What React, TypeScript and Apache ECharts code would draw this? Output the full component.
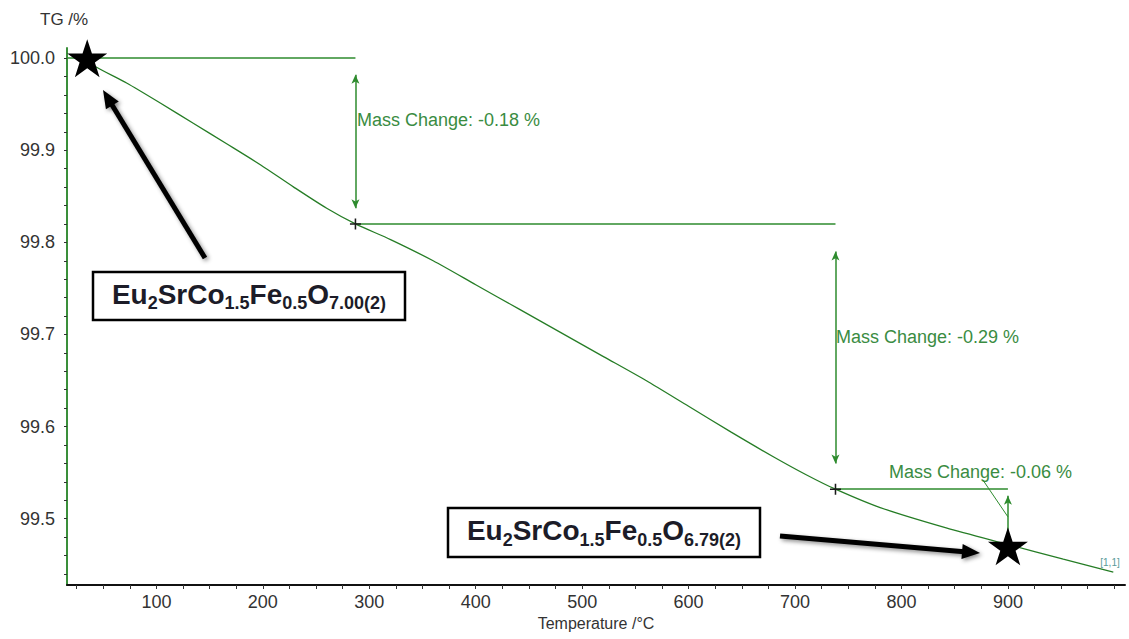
import React, { useEffect, useRef } from 'react';
import * as echarts from 'echarts';

// ---- data ----
const temperatures = [35, 41, 72, 104, 135, 166, 198, 229, 260, 287, 320, 360, 400, 440, 480, 520, 560, 600, 640, 680, 710, 738, 780, 842, 900, 952, 999];
const tgValues = [100.0, 99.992, 99.973, 99.951, 99.929, 99.907, 99.884, 99.86, 99.837, 99.82, 99.803, 99.78, 99.754, 99.728, 99.702, 99.676, 99.65, 99.622, 99.594, 99.567, 99.548, 99.532, 99.512, 99.49, 99.472, 99.456, 99.442];

const stepTemps = [287, 738, 900];
const stepLevels = [100.0, 99.82, 99.532];
const massChanges = ['-0.18', '-0.29', '-0.06'];

const crossTemps = [287, 738];
const crossValues = [99.82, 99.532];

const starTemps = [35, 900];
const starValues = [100.0, 99.47];

const xLabelValues = [100, 200, 300, 400, 500, 600, 700, 800, 900];
const xTickValues = [25, 50, 75, 100, 125, 150, 175, 200, 225, 250, 275, 300, 325, 350, 375, 400, 425, 450, 475, 500, 525, 550, 575, 600, 625, 650, 675, 700, 725, 750, 775, 800, 825, 850, 875, 900, 925, 950, 975, 1000];
const yLabelValues = [99.5, 99.6, 99.7, 99.8, 99.9, 100.0];
const yTickValues = [99.44, 99.46, 99.48, 99.5, 99.52, 99.54, 99.56, 99.58, 99.6, 99.62, 99.64, 99.66, 99.68, 99.7, 99.72, 99.74, 99.76, 99.78, 99.8, 99.82, 99.84, 99.86, 99.88, 99.9, 99.92, 99.94, 99.96, 99.98, 100.0];

const formulaStart = '{m|Eu}{s|2}{m|SrCo}{s|1.5}{m|Fe}{s|0.5}{m|O}{s|7.00(2)}';
const formulaEnd = '{m|Eu}{s|2}{m|SrCo}{s|1.5}{m|Fe}{s|0.5}{m|O}{s|6.79(2)}';

const FONT = '"Liberation Sans", Arial, sans-serif';
const GREEN = '#2e8b2e';
const LABEL_GREEN = '#3a8c42';

const STAR_PATH = 'path://M50,0 L61.2,34.5 L97.6,34.5 L68.2,55.9 L79.4,90.5 L50,69.1 L20.6,90.5 L31.8,55.9 L2.4,34.5 L38.8,34.5 Z';
const PLUS_PATH = 'path://M4.3,0 H5.7 V4.3 H10 V5.7 H5.7 V10 H4.3 V5.7 H0 V4.3 H4.3 Z';

function arrowGraphic(x1: number, y1: number, x2: number, y2: number) {
  const dx = x2 - x1;
  const dy = y2 - y1;
  const len = Math.sqrt(dx * dx + dy * dy);
  const ux = dx / len;
  const uy = dy / len;
  const headLen = 18;
  const headHalf = 7.5;
  const bx = x2 - ux * headLen;
  const by = y2 - uy * headLen;
  const px = -uy;
  const py = ux;
  const shadow = { shadowBlur: 4, shadowColor: 'rgba(0,0,0,0.45)', shadowOffsetX: 2, shadowOffsetY: 2 };
  return {
    type: 'group',
    children: [
      { type: 'line', shape: { x1, y1, x2: bx + ux * 2, y2: by + uy * 2 }, style: { stroke: '#000', lineWidth: 5, ...shadow } },
      {
        type: 'polygon',
        shape: { points: [[x2, y2], [bx + px * headHalf, by + py * headHalf], [bx - px * headHalf, by - py * headHalf]] },
        style: { fill: '#000', ...shadow },
      },
    ],
  };
}

function formulaBox(x: number, y: number, w: number, h: number, text: string) {
  return {
    type: 'group',
    children: [
      { type: 'rect', shape: { x, y, width: w, height: h }, style: { fill: '#fff', stroke: '#000', lineWidth: 2.5 } },
      {
        type: 'text',
        x: x + w / 2,
        y: y + h / 2,
        style: {
          text,
          align: 'center',
          verticalAlign: 'middle',
          fill: '#1c1c28',
          rich: {
            m: { fontSize: 28, fontWeight: 'bold', fontFamily: FONT, fill: '#1c1c28', lineHeight: 32, verticalAlign: 'top' },
            s: { fontSize: 18, fontWeight: 'bold', fontFamily: FONT, fill: '#1c1c28', verticalAlign: 'bottom' },
          },
        },
      },
    ],
  };
}

export default function App() {
  const ref = useRef<HTMLDivElement>(null);

  useEffect(() => {
    if (!ref.current) return;
    const chart = echarts.init(ref.current, null, { renderer: 'svg', width: 1129, height: 639 });

    const curveData = temperatures.map((t, i) => [t, tgValues[i]]);
    const arrowSym = { symbol: 'arrow', symbolSize: [6, 9] };

    const markLineData: any[] = [
      [{ coord: [16, stepLevels[0]] }, { coord: [stepTemps[0], stepLevels[0]] }],
      [{ coord: [stepTemps[0], stepLevels[1]] }, { coord: [stepTemps[1], stepLevels[1]] }],
      [{ coord: [stepTemps[1], stepLevels[2]] }, { coord: [stepTemps[2], stepLevels[2]] }],
      [{ coord: [stepTemps[0], 99.982], ...arrowSym }, { coord: [stepTemps[0], 99.837], ...arrowSym }],
      [{ coord: [stepTemps[1], 99.79], ...arrowSym }, { coord: [stepTemps[1], 99.56], ...arrowSym }],
      [{ coord: [stepTemps[2], 99.525], ...arrowSym }, { coord: [stepTemps[2], 99.478] }],
      [{ coord: [876.5, 99.542], lineStyle: { width: 1 } }, { coord: [stepTemps[2], 99.502] }],
    ];

    const option: any = {
      animation: false,
      backgroundColor: '#fff',
      grid: { left: 67, right: 4, top: 48, bottom: 54, containLabel: false, outerBoundsMode: 'none' },
      xAxis: {
        type: 'value',
        min: 16,
        max: 1010,
        name: 'Temperature /°C',
        nameLocation: 'middle',
        nameGap: 30,
        nameTextStyle: { fontSize: 16, color: '#333', fontFamily: FONT },
        axisLine: { show: true, onZero: false, lineStyle: { color: '#111', width: 2 } },
        axisTick: { show: true, customValues: xTickValues, length: 4, lineStyle: { color: '#333', width: 1 } },
        axisLabel: { customValues: xLabelValues, fontSize: 18, color: '#333', margin: 8, fontFamily: FONT },
        splitLine: { show: false },
      },
      yAxis: {
        type: 'value',
        min: 99.428,
        max: 100.011,
        axisLine: { show: true, onZero: false, lineStyle: { color: '#3a8f3a', width: 2 } },
        axisTick: { show: true, customValues: yTickValues, length: 3, lineStyle: { color: '#333', width: 1 } },
        axisLabel: {
          customValues: yLabelValues,
          fontSize: 18,
          color: '#333',
          margin: 12,
          fontFamily: FONT,
          formatter: (v: number) => v.toFixed(1),
        },
        splitLine: { show: false },
      },
      series: [
        {
          type: 'line',
          data: curveData,
          showSymbol: false,
          smooth: 0.25,
          lineStyle: { color: '#267d26', width: 1.3 },
          z: 3,
          markLine: {
            silent: true,
            symbol: ['none', 'none'],
            label: { show: false },
            emphasis: { disabled: true },
            lineStyle: { color: GREEN, width: 1.5, type: 'solid' },
            data: markLineData,
          },
        },
        {
          type: 'scatter',
          data: crossTemps.map((t, i) => [t, crossValues[i]]),
          symbol: PLUS_PATH,
          symbolSize: 11,
          itemStyle: { color: '#1a1a1a', opacity: 1 },
          z: 5,
        },
        {
          type: 'scatter',
          data: starTemps.map((t, i) => [t, starValues[i]]),
          symbol: STAR_PATH,
          symbolSize: [40, 38],
          itemStyle: { color: '#000', opacity: 1 },
          z: 10,
        },
      ],
      graphic: [
        { type: 'text', x: 40, y: 19, style: { text: 'TG /%', fontSize: 17, fill: '#333', fontFamily: FONT, verticalAlign: 'middle' } },
        { type: 'text', x: 357, y: 120, style: { text: `Mass Change: ${massChanges[0]} %`, fontSize: 18, fill: LABEL_GREEN, fontFamily: FONT, verticalAlign: 'middle' } },
        { type: 'text', x: 836, y: 337, style: { text: `Mass Change: ${massChanges[1]} %`, fontSize: 18, fill: LABEL_GREEN, fontFamily: FONT, verticalAlign: 'middle' } },
        { type: 'text', x: 889, y: 472, style: { text: `Mass Change: ${massChanges[2]} %`, fontSize: 18, fill: LABEL_GREEN, fontFamily: FONT, verticalAlign: 'middle' } },
        { type: 'text', x: 1110, y: 562, style: { text: '[1,1]', fontSize: 10, fill: '#5a9a9a', fontFamily: FONT, align: 'center', verticalAlign: 'middle' } },
        arrowGraphic(205, 258, 103, 90),
        arrowGraphic(780, 536, 980, 553),
        formulaBox(93, 272, 312, 48, formulaStart),
        formulaBox(448, 508, 312, 49, formulaEnd),
      ],
    };

    chart.setOption(option);
    return () => chart.dispose();
  }, []);

  return (
    <div
      ref={ref}
      style={{ position: 'fixed', left: 0, top: 0, width: 1129, height: 639, background: '#fff' }}
    />
  );
}
